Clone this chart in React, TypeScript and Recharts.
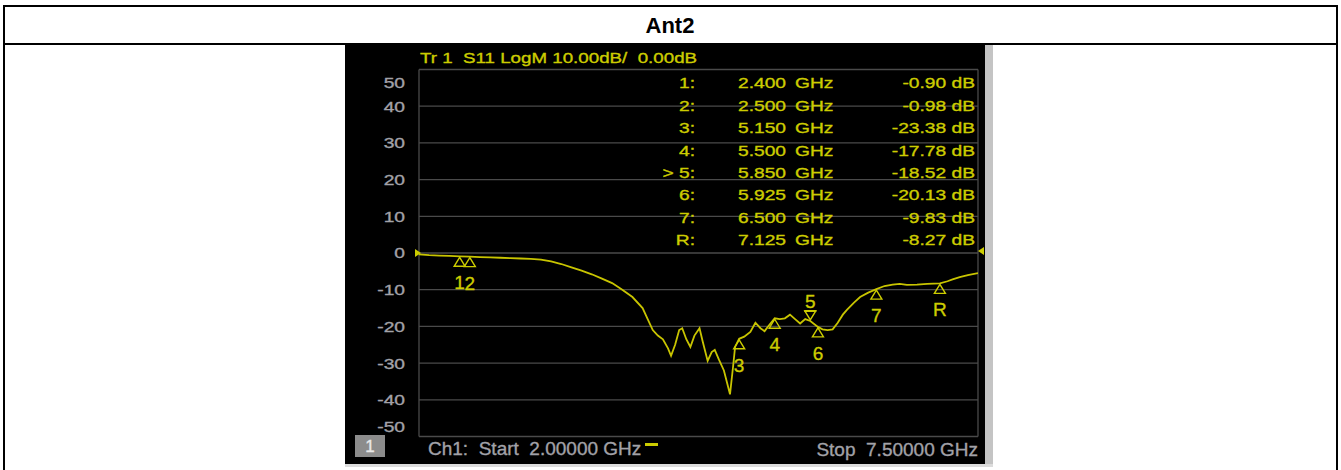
import React from 'react';
import { ComposedChart, Line, Scatter, XAxis, YAxis, CartesianGrid, ReferenceDot } from 'recharts';

// S11 trace (GHz / dB)
const freqGHz = [
  2.0, 2.1, 2.2, 2.3, 2.4, 2.5, 2.6, 2.7, 2.8, 2.9, 3.0, 3.1, 3.2, 3.3, 3.4, 3.5, 3.6, 3.7, 3.8, 3.9,
  4.0, 4.1, 4.2, 4.25, 4.3, 4.35, 4.4, 4.45, 4.48, 4.52, 4.56, 4.59, 4.63, 4.67, 4.71, 4.76, 4.79,
  4.84, 4.88, 4.91, 4.95, 5.0, 5.06, 5.09, 5.11, 5.15, 5.2, 5.26, 5.31, 5.36, 5.4, 5.45, 5.5, 5.55,
  5.6, 5.65, 5.7, 5.75, 5.8, 5.85, 5.925, 5.97, 6.02, 6.07, 6.12, 6.17, 6.21, 6.28, 6.34, 6.42, 6.5,
  6.58, 6.66, 6.73, 6.8, 6.9, 7.0, 7.125, 7.2, 7.25, 7.32, 7.4, 7.5,
];
const s11dB = [
  -0.4, -0.6, -0.7, -0.8, -0.9, -0.98, -1.1, -1.2, -1.3, -1.4, -1.5, -1.6, -1.8, -2.3, -3.0, -3.9, -4.8, -5.8, -7.0, -8.2,
  -10.0, -12.0, -15.0, -18.0, -21.0, -22.5, -23.5, -26.0, -28.0, -25.0, -21.0, -20.5, -23.5, -25.6, -22.5, -20.5, -24.0,
  -29.4, -27.0, -26.4, -29.0, -32.0, -38.5, -31.0, -25.6, -23.38, -22.8, -21.5, -19.0, -20.5, -21.3, -19.5, -17.78, -18.0,
  -17.8, -16.8, -18.0, -19.2, -18.0, -18.52, -20.13, -20.8, -21.0, -20.8, -19.0, -16.8, -15.5, -13.5, -12.0, -10.8, -9.83,
  -9.0, -8.6, -8.4, -8.7, -8.6, -8.4, -8.27, -7.7, -7.2, -6.6, -6.0, -5.5,
];

const markerNames = ['1', '2', '3', '4', '5', '6', '7', 'R'];
const markerFreq = [2.4, 2.5, 5.15, 5.5, 5.85, 5.925, 6.5, 7.125];
const markerDb = [-0.9, -0.98, -23.38, -17.78, -18.52, -20.13, -9.83, -8.27];
const activeMarker = '5';

const yTicks = [50, 40, 30, 20, 10, 0, -10, -20, -30, -40, -50];
const xTicks = [2, 2.55, 3.1, 3.65, 4.2, 4.75, 5.3, 5.85, 6.4, 6.95, 7.5];

const headerText = 'Tr 1  S11 LogM 10.00dB/  0.00dB';
const startText = 'Ch1:  Start  2.00000 GHz';
const stopText = 'Stop  7.50000 GHz';

const trace = freqGHz.map((f, i) => ({ f, db: s11dB[i] }));
const markers = markerFreq.map((f, i) => ({ f, db: markerDb[i], name: markerNames[i] }));

const YEL = '#cccc00';
const GRAY = '#a2a2a8';
const FONT = '"Liberation Sans", Arial, sans-serif';

function VText({ x, y, anchor = 'start', fill = YEL, size = 15, sx = 1.28, children }: any) {
  return (
    <text
      transform={`translate(${x},${y}) scale(${sx},1)`}
      textAnchor={anchor}
      fill={fill}
      stroke={fill}
      strokeWidth={0.35}
      fontSize={size}
      fontFamily={FONT}
      style={{ whiteSpace: 'pre' }}
    >
      {children}
    </text>
  );
}

function YTick(props: any) {
  const { y, payload } = props;
  let dy = 5.4;
  if (payload.value === 50) dy += 13;
  if (payload.value === -50) dy -= 9.5;
  return <VText x={60} y={y + dy} anchor="end" fill={GRAY}>{String(payload.value)}</VText>;
}

function MarkerShape(props: any) {
  const { cx, cy, payload } = props;
  if (payload.name === activeMarker) {
    return (
      <g>
        <path d={`M${cx - 5.5},${cy - 10}L${cx + 5.5},${cy - 10}L${cx},${cy - 1}Z`} fill="none" stroke={YEL} strokeWidth={1.4} />
        <line x1={cx - 6} x2={cx + 6} y1={cy - 10} y2={cy - 10} stroke={YEL} strokeWidth={2} />
        <VText x={cx} y={cy - 13} anchor="middle" size={19} sx={1}>{payload.name}</VText>
      </g>
    );
  }
  return (
    <g>
      <path d={`M${cx},${cy + 1}L${cx - 5.5},${cy + 10}L${cx + 5.5},${cy + 10}Z`} fill="none" stroke={YEL} strokeWidth={1.4} />
      <VText x={cx} y={cy + 33} anchor="middle" size={19} sx={1}>{payload.name}</VText>
    </g>
  );
}

const RefLeft = (p: any) => <path d={`M${p.cx - 4},${p.cy - 4}L${p.cx + 2},${p.cy}L${p.cx - 4},${p.cy + 4}Z`} fill={YEL} />;
const RefRight = (p: any) => <path d={`M${p.cx + 6},${p.cy - 6}L${p.cx},${p.cy - 2}L${p.cx + 6},${p.cy + 2}Z`} fill={YEL} />;

export default function App() {
  return (
    <div style={{ position: 'absolute', left: 0, top: 0, width: 1341, height: 470, background: '#fff', overflow: 'hidden' }}>
      {/* table frame */}
      <div style={{ position: 'absolute', left: 3, top: 5, width: 1335, height: 2, background: '#000' }} />
      <div style={{ position: 'absolute', left: 3, top: 43, width: 1335, height: 2, background: '#000' }} />
      <div style={{ position: 'absolute', left: 3, top: 5, width: 2, height: 465, background: '#000' }} />
      <div style={{ position: 'absolute', left: 1336, top: 5, width: 2, height: 465, background: '#000' }} />

      {/* analyzer screen */}
      <div style={{ position: 'absolute', left: 345, top: 45, width: 640, height: 419, background: '#000' }} />
      <div style={{ position: 'absolute', left: 985, top: 45, width: 8, height: 419, background: '#c4c4c4' }} />
      <div style={{ position: 'absolute', left: 345, top: 464, width: 648, height: 3, background: '#dcdcdc' }} />

      <div style={{ position: 'absolute', left: 345, top: 45 }}>
        <ComposedChart width={640} height={420} margin={{ top: 24.5, right: 7, bottom: 28.5, left: 0 }}>
          <CartesianGrid stroke="#4a4a4a" strokeWidth={1.3} />
          <XAxis type="number" dataKey="f" domain={[2, 7.5]} ticks={xTicks} height={0} tick={false} axisLine={false} tickLine={false} allowDataOverflow />
          <YAxis type="number" domain={[-50, 50]} ticks={yTicks} width={74} axisLine={false} tickLine={false} tick={(p: any) => <YTick {...p} />} allowDataOverflow />
          <Line data={trace} dataKey="db" type="linear" stroke="#c8c400" strokeWidth={1.8} dot={false} isAnimationActive={false} />
          <Scatter data={markers} dataKey="db" shape={(p: any) => <MarkerShape {...p} />} isAnimationActive={false} />
          <ReferenceDot x={2} y={0} shape={RefLeft} ifOverflow="visible" />
          <ReferenceDot x={7.5} y={0} shape={RefRight} ifOverflow="visible" />
        </ComposedChart>
      </div>

      <svg width={1341} height={470} style={{ position: 'absolute', left: 0, top: 0, pointerEvents: 'none' }}>
        <text x={670} y={33} textAnchor="middle" fontFamily={FONT} fontWeight="bold" fontSize={22} fill="#000">Ant2</text>
        <VText x={420} y={62.5} sx={1.25}>{headerText}</VText>
        {markers.map((m, i) => {
          const y = 83 + i * 22.4 + 5.4;
          return (
            <g key={m.name}>
              <VText x={695} y={y} anchor="end">{`${m.name === activeMarker ? '> ' : ''}${m.name}:`}</VText>
              <VText x={738} y={y}>{m.f.toFixed(3)}</VText>
              <VText x={795} y={y}>GHz</VText>
              <VText x={975} y={y} anchor="end">{`${m.db.toFixed(2)} dB`}</VText>
            </g>
          );
        })}
        <rect x={355} y={435} width={30} height={22} fill="#8c8c8c" />
        <VText x={370} y={452} anchor="middle" fill="#e8e8e8" size={17} sx={1}>1</VText>
        <VText x={428} y={455} fill={GRAY} size={19} sx={1}>{startText}</VText>
        <rect x={645} y={443} width={13} height={3} fill={YEL} />
        <VText x={978} y={456} anchor="end" fill={GRAY} size={19} sx={1}>{stopText}</VText>
      </svg>
    </div>
  );
}
